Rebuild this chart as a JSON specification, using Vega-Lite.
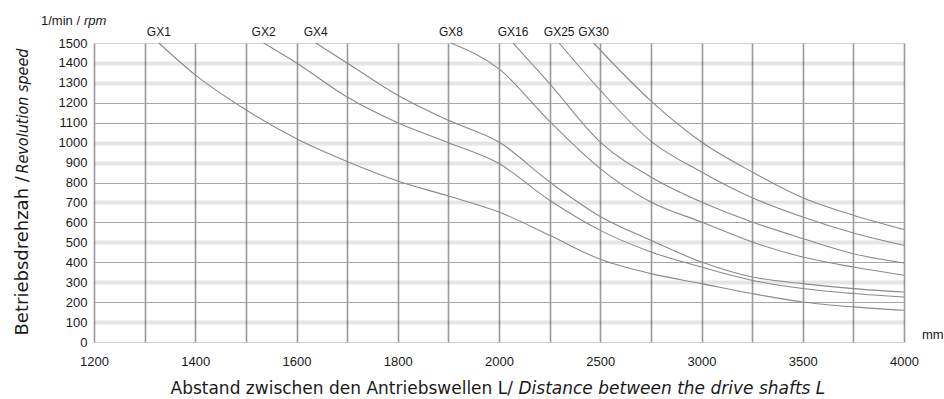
{
  "$schema": "https://vega.github.io/schema/vega-lite/v6.json",
  "width": 810,
  "height": 299,
  "autosize": {"type": "none"},
  "padding": {"left": 94, "top": 43, "right": 40, "bottom": 57},
  "background": "white",
  "config": {"view": {"stroke": null}, "font": "Liberation Sans"},
  "data": {"values": [
    {"type": "GX1", "L": 1328, "n": 1500}, {"type": "GX1", "L": 1400, "n": 1340}, {"type": "GX1", "L": 1500, "n": 1165}, {"type": "GX1", "L": 1600, "n": 1020}, {"type": "GX1", "L": 1700, "n": 906}, {"type": "GX1", "L": 1800, "n": 808}, {"type": "GX1", "L": 1900, "n": 732}, {"type": "GX1", "L": 2000, "n": 652}, {"type": "GX1", "L": 2250, "n": 535}, {"type": "GX1", "L": 2500, "n": 415}, {"type": "GX1", "L": 2750, "n": 343}, {"type": "GX1", "L": 3000, "n": 293}, {"type": "GX1", "L": 3250, "n": 243}, {"type": "GX1", "L": 3500, "n": 201}, {"type": "GX1", "L": 3750, "n": 176}, {"type": "GX1", "L": 4000, "n": 159},
    {"type": "GX2", "L": 1535, "n": 1500}, {"type": "GX2", "L": 1600, "n": 1400}, {"type": "GX2", "L": 1700, "n": 1229}, {"type": "GX2", "L": 1800, "n": 1100}, {"type": "GX2", "L": 1900, "n": 1000}, {"type": "GX2", "L": 2000, "n": 895}, {"type": "GX2", "L": 2250, "n": 711}, {"type": "GX2", "L": 2500, "n": 560}, {"type": "GX2", "L": 2750, "n": 452}, {"type": "GX2", "L": 3000, "n": 376}, {"type": "GX2", "L": 3250, "n": 310}, {"type": "GX2", "L": 3500, "n": 268}, {"type": "GX2", "L": 3750, "n": 243}, {"type": "GX2", "L": 4000, "n": 226},
    {"type": "GX4", "L": 1638, "n": 1500}, {"type": "GX4", "L": 1700, "n": 1400}, {"type": "GX4", "L": 1800, "n": 1238}, {"type": "GX4", "L": 1900, "n": 1112}, {"type": "GX4", "L": 2000, "n": 1003}, {"type": "GX4", "L": 2250, "n": 803}, {"type": "GX4", "L": 2500, "n": 630}, {"type": "GX4", "L": 2750, "n": 510}, {"type": "GX4", "L": 3000, "n": 401}, {"type": "GX4", "L": 3250, "n": 326}, {"type": "GX4", "L": 3500, "n": 293}, {"type": "GX4", "L": 3750, "n": 268}, {"type": "GX4", "L": 4000, "n": 251},
    {"type": "GX8", "L": 1905, "n": 1500}, {"type": "GX8", "L": 2000, "n": 1370}, {"type": "GX8", "L": 2250, "n": 1107}, {"type": "GX8", "L": 2500, "n": 870}, {"type": "GX8", "L": 2750, "n": 702}, {"type": "GX8", "L": 3000, "n": 602}, {"type": "GX8", "L": 3250, "n": 502}, {"type": "GX8", "L": 3500, "n": 426}, {"type": "GX8", "L": 3750, "n": 376}, {"type": "GX8", "L": 4000, "n": 335},
    {"type": "GX16", "L": 2069, "n": 1500}, {"type": "GX16", "L": 2250, "n": 1296}, {"type": "GX16", "L": 2500, "n": 1003}, {"type": "GX16", "L": 2750, "n": 828}, {"type": "GX16", "L": 3000, "n": 702}, {"type": "GX16", "L": 3250, "n": 602}, {"type": "GX16", "L": 3500, "n": 519}, {"type": "GX16", "L": 3750, "n": 443}, {"type": "GX16", "L": 4000, "n": 396},
    {"type": "GX25", "L": 2297, "n": 1500}, {"type": "GX25", "L": 2500, "n": 1263}, {"type": "GX25", "L": 2750, "n": 1008}, {"type": "GX25", "L": 3000, "n": 853}, {"type": "GX25", "L": 3250, "n": 724}, {"type": "GX25", "L": 3500, "n": 627}, {"type": "GX25", "L": 3750, "n": 547}, {"type": "GX25", "L": 4000, "n": 485},
    {"type": "GX30", "L": 2467, "n": 1500}, {"type": "GX30", "L": 2750, "n": 1210}, {"type": "GX30", "L": 3000, "n": 1003}, {"type": "GX30", "L": 3250, "n": 853}, {"type": "GX30", "L": 3500, "n": 724}, {"type": "GX30", "L": 3750, "n": 636}, {"type": "GX30", "L": 4000, "n": 564}
  ]},
  "layer": [
    {
      "mark": {"type": "line", "interpolate": "monotone", "stroke": "#8a8a8a", "strokeWidth": 1.1},
      "encoding": {
        "x": {
          "field": "L", "type": "quantitative",
          "scale": {"type": "linear", "domain": [1200, 2000, 4000], "range": [0, 405, 810], "nice": false, "zero": false},
          "axis": {
            "values": [1200, 1300, 1400, 1500, 1600, 1700, 1800, 1900, 2000, 2250, 2500, 2750, 3000, 3250, 3500, 3750, 4000],
            "labelExpr": "indexof([1200,1400,1600,1800,2000,2500,3000,3500,4000], datum.value) >= 0 ? format(datum.value, 'd') : ''",
            "ticks": false, "domain": false, "grid": true, "gridColor": "#9a9a9a", "gridWidth": 1.6,
            "labelFont": "Liberation Sans", "labelFontSize": 13, "labelColor": "#1a1a1a", "labelPadding": 13,
            "labelFlush": false, "labelOverlap": false, "labelBound": false,
            "title": "Abstand zwischen den Antriebswellen L/", "titleFont": "DejaVu Sans", "titleFontSize": 17, "titleFontWeight": "normal",
            "titleColor": "#1a1a1a", "titleX": 76, "titleY": 51, "titleAlign": "left", "titleBaseline": "alphabetic"
          }
        },
        "y": {
          "field": "n", "type": "quantitative",
          "scale": {"domain": [0, 1500], "nice": false},
          "axis": {
            "values": [0, 100, 200, 300, 400, 500, 600, 700, 800, 900, 1000, 1100, 1200, 1300, 1400, 1500],
            "format": "d",
            "ticks": false, "domain": false,
            "labelFont": "Liberation Sans", "labelFontSize": 13, "labelColor": "#1a1a1a", "labelPadding": 7,
            "grid": true,
            "gridColor": {"condition": {"test": "indexof([100,300,500,700,900,1000,1300,1400], datum.value) >= 0", "value": "rgba(0,0,0,0.1)"}, "value": "#a6a6a6"},
            "gridWidth": {"condition": {"test": "indexof([100,300,500,700,900,1000,1300,1400], datum.value) >= 0", "value": 4}, "value": 1.2},
            "gridOpacity": {"condition": {"test": "datum.value == 0 || datum.value == 1500", "value": 0.55}, "value": 1},
            "title": "Betriebsdrehzah / ", "titleFont": "DejaVu Sans", "titleFontSize": 18, "titleFontWeight": "normal",
            "titleColor": "#1a1a1a", "titleAngle": 270, "titleX": -67, "titleY": 292, "titleAlign": "left", "titleBaseline": "alphabetic"
          }
        },
        "detail": {"field": "type"}
      }
    },
    {
      "transform": [{"filter": "datum.n == 1500"}],
      "mark": {"type": "text", "baseline": "alphabetic", "align": "center", "dy": -7, "font": "Liberation Sans", "fontSize": 12, "color": "#1a1a1a"},
      "encoding": {
        "x": {
          "field": "L", "type": "quantitative",
          "axis": {"orient": "bottom", "labels": false, "ticks": false, "domain": false, "grid": false,
            "title": "Distance between the drive shafts L", "titleFont": "DejaVu Sans", "titleFontSize": 17, "titleFontStyle": "italic", "titleFontWeight": "normal",
            "titleColor": "#1a1a1a", "titleX": 424, "titleY": 51, "titleAlign": "left", "titleBaseline": "alphabetic"}
        },
        "y": {
          "field": "n", "type": "quantitative",
          "axis": {"orient": "left", "labels": false, "ticks": false, "domain": false, "grid": false,
            "title": "Revolution speed", "titleFont": "DejaVu Sans Condensed, DejaVu Sans", "titleFontSize": 16, "titleFontStyle": "italic", "titleFontWeight": "normal",
            "titleColor": "#1a1a1a", "titleAngle": 270, "titleX": -67, "titleY": 130, "titleAlign": "left", "titleBaseline": "alphabetic"}
        },
        "text": {"field": "type"}
      }
    },
    {
      "data": {"values": [{}]},
      "mark": {"type": "text", "text": "1/min /", "align": "left", "baseline": "alphabetic", "dx": -53, "dy": -18, "font": "Liberation Sans", "fontSize": 13, "color": "#1a1a1a"},
      "encoding": {"x": {"datum": 1200, "type": "quantitative", "axis": null}, "y": {"datum": 1500, "type": "quantitative", "axis": null}}
    },
    {
      "data": {"values": [{}]},
      "mark": {"type": "text", "text": "rpm", "align": "left", "baseline": "alphabetic", "dx": -10, "dy": -18, "font": "Liberation Sans", "fontSize": 13, "fontStyle": "italic", "color": "#1a1a1a"},
      "encoding": {"x": {"datum": 1200, "type": "quantitative", "axis": null}, "y": {"datum": 1500, "type": "quantitative", "axis": null}}
    },
    {
      "data": {"values": [{}]},
      "mark": {"type": "text", "text": "mm", "align": "left", "baseline": "alphabetic", "dx": 18, "dy": -3.5, "font": "Liberation Sans", "fontSize": 13, "color": "#1a1a1a"},
      "encoding": {"x": {"datum": 4000, "type": "quantitative", "axis": null}, "y": {"datum": 0, "type": "quantitative", "axis": null}}
    }
  ],
  "resolve": {"axis": {"x": "independent", "y": "independent"}}
}
